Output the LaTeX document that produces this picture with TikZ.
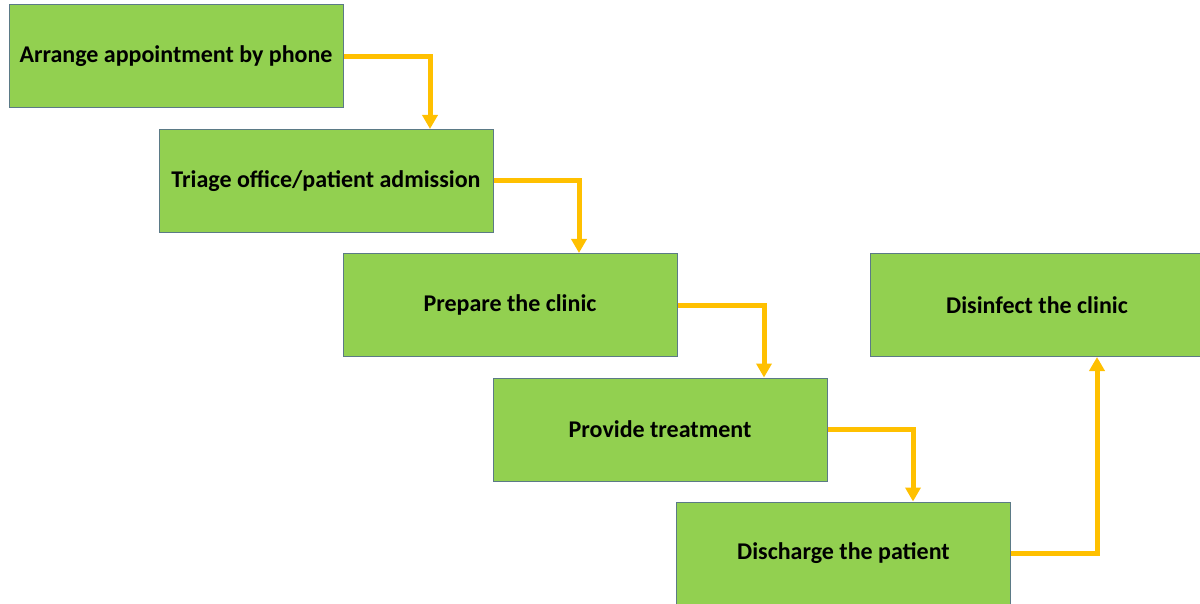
\documentclass[tikz,border=0pt]{standalone}
\usepackage{fontspec}
\setmainfont{Carlito}
\usetikzlibrary{arrows.meta}
\definecolor{boxgreen}{HTML}{92D050}
\definecolor{boxline}{HTML}{5B7A86}
\definecolor{flowgold}{HTML}{FFC000}
\tikzset{
  stepbox/.style={draw=boxline, line width=1pt, fill=boxgreen, rectangle,
    minimum width=334pt, minimum height=103pt, inner sep=0pt,
    font=\fontsize{24}{28}\selectfont\bfseries},
  flow/.style={draw=flowgold, line width=5pt,
    -{Triangle[width=15pt,length=14pt]}}
}
\begin{document}
\begin{tikzpicture}[x=1pt,y=-1pt]
\clip (0,0) rectangle (1200,604);
\fill[white] (0,0) rectangle (1200,604);
\node[stepbox] (phone) at (176,56.5) {Arrange appointment by phone};
\node[stepbox] (triage) at (326,181) {Triage office/patient admission};
\node[stepbox] (prepare) at (510,305) {Prepare the clinic};
\node[stepbox] (treat) at (660,429.5) {Provide treatment};
\node[stepbox] (discharge) at (843.5,553.5) {Discharge the patient};
\node[stepbox] (disinfect) at (1037,305) {Disinfect the clinic};
\coordinate (k1) at (430,0);
\coordinate (k2) at (579,0);
\coordinate (k3) at (764,0);
\coordinate (k4) at (913,0);
\coordinate (k5) at (1097,0);
\draw[flow] (phone.east) -| (triage.north -| k1);
\draw[flow] (triage.east) -| (prepare.north -| k2);
\draw[flow] (prepare.east) -| (treat.north -| k3);
\draw[flow] (treat.east) -| (discharge.north -| k4);
\draw[flow] (discharge.east) -| (disinfect.south -| k5);
\end{tikzpicture}
\end{document}
